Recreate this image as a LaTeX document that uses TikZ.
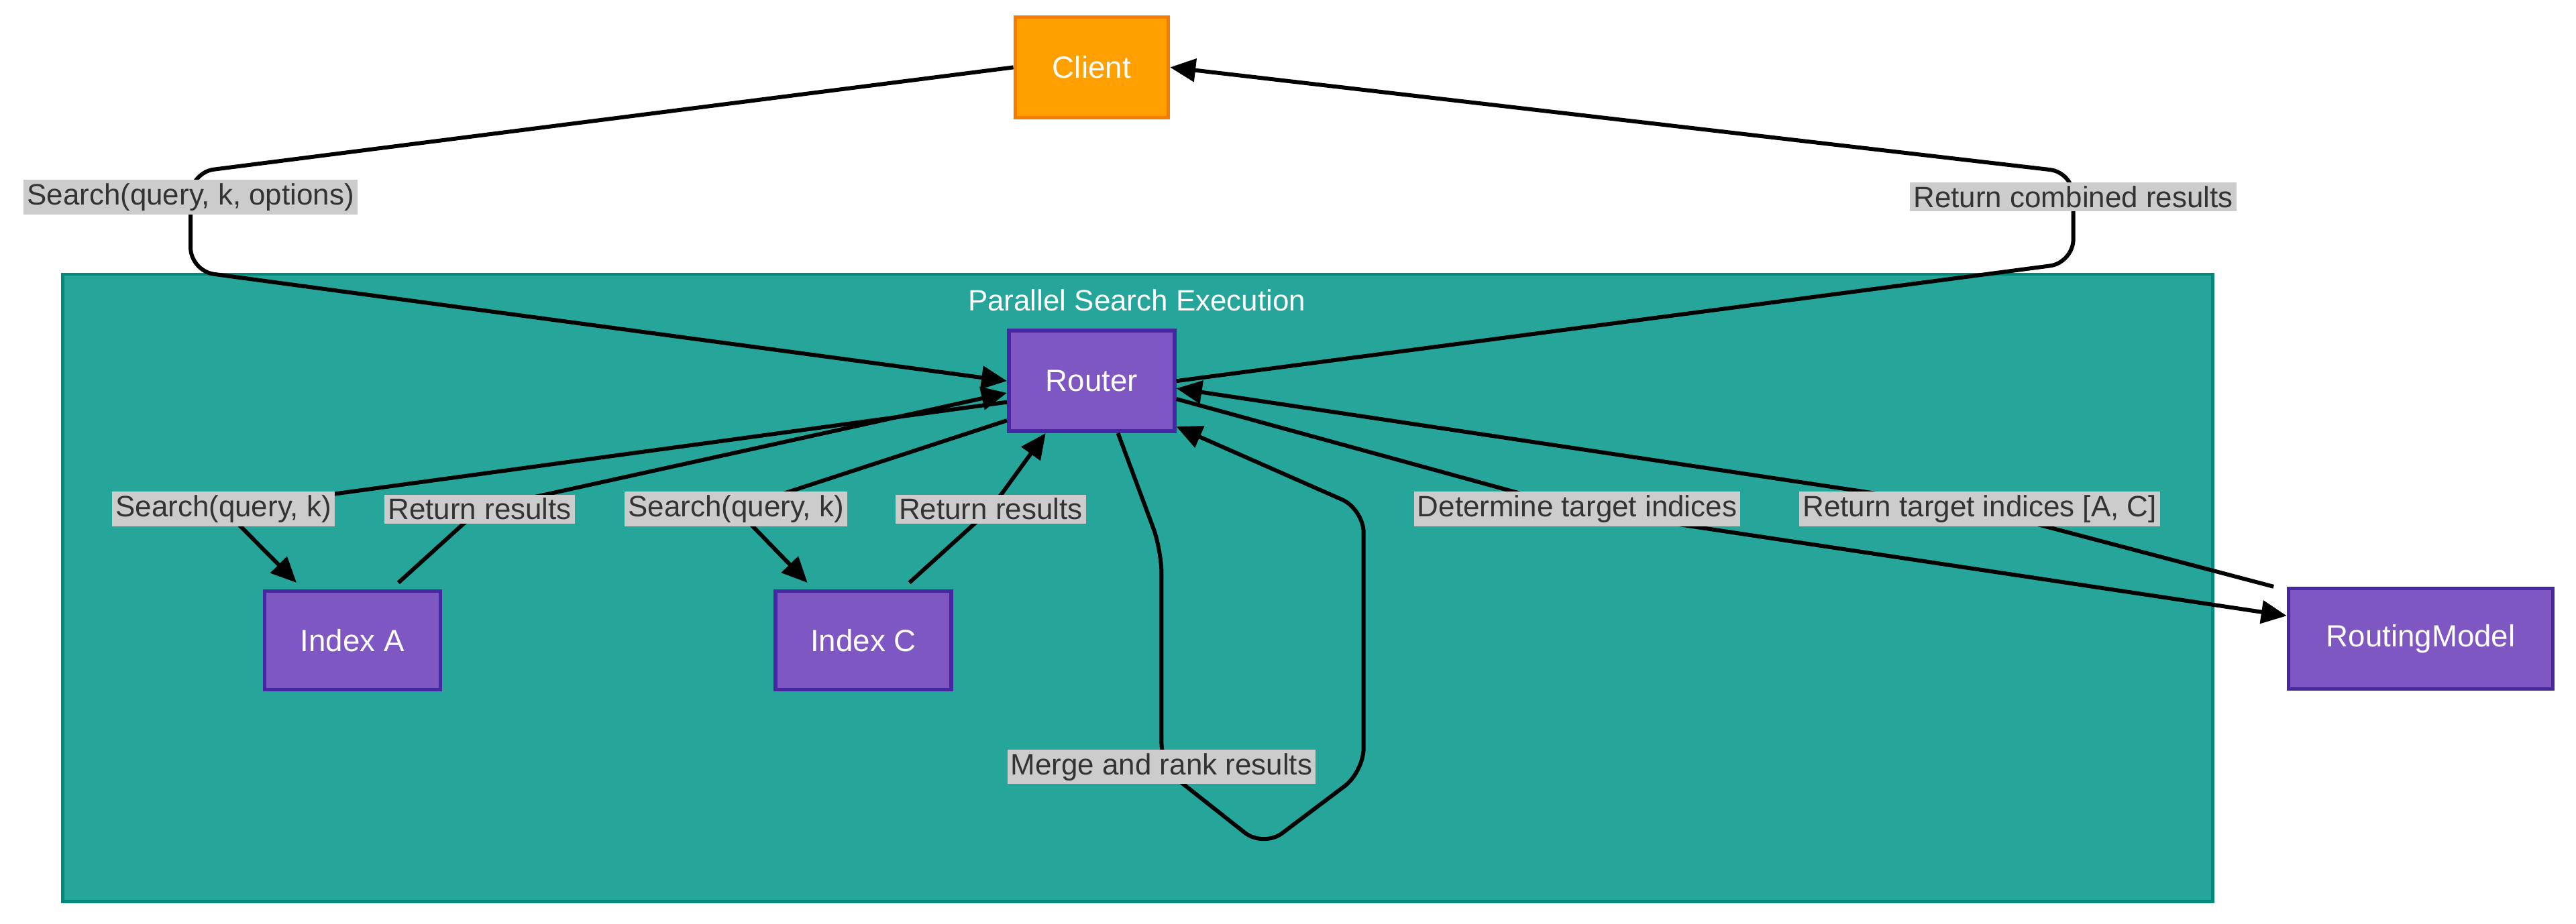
\documentclass[tikz,border=0pt]{standalone}
\usepackage{fontspec}
\setmainfont{Liberation Sans}
\usetikzlibrary{calc}
\usetikzlibrary{arrows.meta}

\definecolor{tealbg}{HTML}{26A69A}
\definecolor{tealline}{HTML}{00897B}
\definecolor{boxfill}{HTML}{7E57C2}
\definecolor{boxline}{HTML}{4527A0}
\definecolor{clientfill}{HTML}{FFA000}
\definecolor{clientline}{HTML}{F57C00}
\definecolor{lblfill}{HTML}{CCCCCC}
\definecolor{lbltext}{HTML}{333333}

\tikzset{
  box/.style={draw=boxline,fill=boxfill,line width=1.6pt,text=white,
    minimum height=1.5cm,font=\fontsize{13}{15}\selectfont},
  lbl/.style={fill=lblfill,text=lbltext,inner sep=1.5pt,
    font=\fontsize{12.5}{14}\selectfont},
  conn/.style={line width=1.7pt,rounded corners=0.35cm},
  arr/.style={conn,-{Triangle[length=0.38cm,width=0.34cm]}}
}

\begin{document}
\begin{tikzpicture}[x=0.02449cm,y=-0.02449cm]
    % Fix the page size
    \useasboundingbox (0,0) rectangle (1568,562.3);

    % Draw the parallel search execution area
    \draw[fill=tealbg,draw=tealline,line width=1.4pt] (38,167) rectangle (1347,549);
    \node[text=white,font=\fontsize{12.5}{14}\selectfont] (title) at (692,183) {Parallel Search Execution};

    % Draw the nodes
    \node[box,draw=clientline,fill=clientfill,minimum width=2.28cm] (Client) at (664.5,41) {Client};
    \node[box,minimum width=2.47cm] (Router) at (664.5,232) {Router};
    \node[box,minimum width=2.62cm,minimum height=1.47cm] (IdxA) at (214.5,390) {Index A};
    \node[box,minimum width=2.62cm,minimum height=1.47cm] (IdxC) at (525.5,390) {Index C};
    \node[box,minimum width=3.94cm] (RModel) at (1473.5,389) {RoutingModel};

    % Label positions
    \coordinate (cSearch) at (116,120);
    \coordinate (cCombined) at (1262,120);
    \coordinate (cSA) at (136,310);
    \coordinate (cRA) at (292,310);
    \coordinate (cSC) at (448,310);
    \coordinate (cRC) at (603,310);
    \coordinate (cDet) at (960,310);
    \coordinate (cTgt) at (1205,310);
    \coordinate (cMerge) at (707,467);

    % Draw the connectors
    \draw[arr] (Client.west) -- ($(cSearch)+(0,-15)$) -- ($(cSearch)+(0,45)$) -- (Router.west);
    \draw[arr] (Router.east) -- ($(cCombined)+(0,40)$) -- ($(cCombined)+(0,-15)$) -- (Client.east);
    \draw[arr] (Router.194) -- (cSA) -- ($(IdxA.north)+(-34,-4)$);
    \draw[arr] ($(IdxA.north)+(28,-4)$) -- (cRA) -- (Router.188);
    \draw[arr] (Router.205) -- (cSC) -- ($(IdxC.north)+(-34,-4)$);
    \draw[arr] ($(IdxC.north)+(28,-4)$) -- (cRC) -- ($(Router.south)+(-28,0)$);
    \draw[arr] (Router.-12) -- (cDet) -- ($(RModel.west)+(0,-14)$);
    \draw[arr] ($(RModel.north west)+(-8,0)$) -- (cTgt) -- (Router.-5);
    \draw[arr] ($(Router.south)+(16,0)$) -- (707,335) -- (cMerge) -- (769,516)
        -- (830,470) -- (830,310) -- ($(Router.south east)+(0,-4)$);

    % Draw the labels
    \node[lbl] (lSearch) at (cSearch) {Search(query, k, options)};
    \node[lbl] (lCombined) at (cCombined) {Return combined results};
    \node[lbl] (lSA) at (cSA) {Search(query, k)};
    \node[lbl] (lRA) at (cRA) {Return results};
    \node[lbl] (lSC) at (cSC) {Search(query, k)};
    \node[lbl] (lRC) at (cRC) {Return results};
    \node[lbl] (lDet) at (cDet) {Determine target indices};
    \node[lbl] (lTgt) at (cTgt) {Return target indices [A, C]};
    \node[lbl] (lMerge) at (cMerge) {Merge and rank results};
\end{tikzpicture}
\end{document}
